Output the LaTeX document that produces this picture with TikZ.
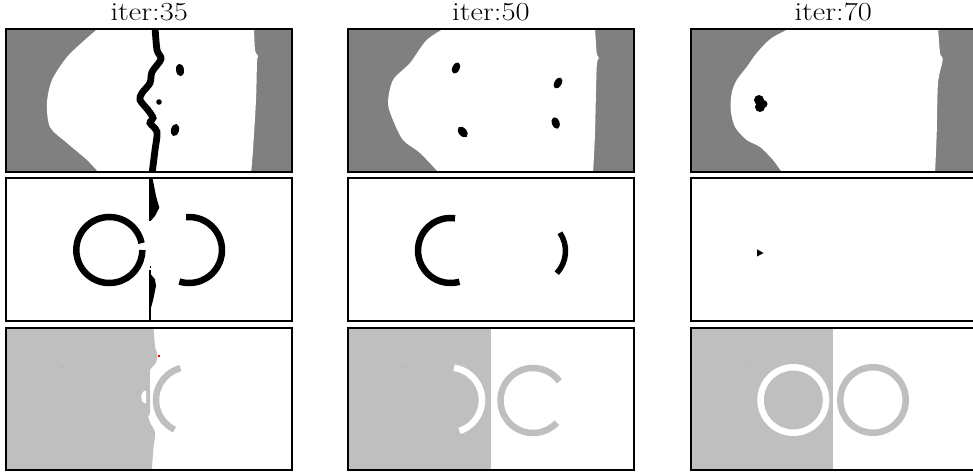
\documentclass[tikz,border=0pt]{standalone}
\usepackage{fontspec}
\usepackage{graphicx}
\begin{document}
\begin{tikzpicture}[x=1pt,y=-1pt,
  frame/.style={draw=black,line width=2pt},
  darkbg/.style={fill=black!50},
  lightbg/.style={fill=black!25},
  blackring/.style={draw=black,line width=6.5pt},
  whitering/.style={draw=white,line width=6.5pt},
  grayring/.style={draw=black!25,line width=6.5pt},
  faint/.style={fill=black!32},
  title/.style={anchor=base,inner sep=0pt,font=\fontsize{26}{30}\selectfont}]
\useasboundingbox (0,0) rectangle (973,473);

% ---------- titles
\node[title] (t1) at (149.2,20.7) {\scalebox{1.175}[1]{iter:35}};
\node[title] (t2) at (490.9,20.7) {\scalebox{1.175}[1]{iter:50}};
\node[title] (t3) at (833.2,20.7) {\scalebox{1.175}[1]{iter:70}};

% ================= column 1 =================
% row 1
\begin{scope}
\clip (6,29) rectangle (291.5,171.7);
\fill[darkbg] (6,29) rectangle (291.5,171.7);
\fill[white] plot[smooth] coordinates {(100,27) (87,38) (67,57) (52,80) (47,103) (50,127) (67,143) (87,160) (100,174)}
  -- plot[smooth] coordinates {(251,174) (253,150) (256,100) (257,62) (258,56) (255,50) (254,27)} -- cycle;
\draw[line width=6.8pt] plot[smooth] coordinates {(155,27) (157,50) (161,59) (152,72) (150,83) (142,93) (140,100) (148,110) (153,118) (150,123) (157,132) (155,150) (152,174)};
\fill[rotate around={8:(180,70)}] (180,70) ellipse[x radius=4,y radius=6.3];
\fill (159,102) circle[radius=2.8];
\fill[rotate around={-15:(175,130)}] (175,130) ellipse[x radius=4,y radius=6.2];
\end{scope}
\draw[frame] (6,29) rectangle (291.5,171.7);

% row 2
\begin{scope}
\clip (6,178.3) rectangle (291.5,321);
\draw[blackring] (109.3,250) ++(-12:33) arc[start angle=-12,end angle=-360,radius=33];
\draw[blackring] (189,250) ++(107:33) arc[start angle=107,end angle=-95,radius=33];
\draw[line width=1.2pt] (150,178) -- (150,221);
\draw[line width=1.2pt] (150,270) -- (150,322);
\fill (149.6,178) -- (152.7,179) -- (156,196) -- (159.3,207.7) -- (155,216) -- (150.6,221) -- cycle;
\fill (149.4,272.7) -- (155,279.3) -- (156,286) -- (153.3,299.3) -- (150.6,309.3) -- (149.4,309.3) -- cycle;
\fill (149.5,265.5) rectangle (151,267.5);
\end{scope}
\draw[frame] (6,178.3) rectangle (291.5,321);

% row 3
\begin{scope}
\clip (6,327.6) rectangle (291.5,470.3);
\fill[lightbg] (4,325) -- plot[smooth] coordinates {(153.3,325) (155,346) (157.3,354.3) (156,362.7) (151.7,367.7) (150,373) (150,411) (148.3,416) (150,422.7) (155,432.7) (153.3,449.3) (151.7,473)} -- (4,473) -- cycle;
\fill[white] (146,390.5) .. controls (139.5,391) and (139.5,403) .. (146,403.5) -- cycle;
\fill[red] (157.6,354.6) rectangle (159.8,357.4);
\draw[grayring] (189,400) ++(-105:33) arc[start angle=-105,end angle=-244,radius=33];
\fill[faint] (62,367) circle[radius=0.8];
\end{scope}
\draw[frame] (6,327.6) rectangle (291.5,470.3);

% ================= column 2 =================
% row 1
\begin{scope}
\clip (348.3,29) rectangle (633.8,171.7);
\fill[darkbg] (348.3,29) rectangle (633.8,171.7);
\fill[white] plot[smooth] coordinates {(446.7,27) (426.7,40) (410,63) (393,80) (388,103) (393,120) (403,140) (420,153) (440,174)}
  -- plot[smooth] coordinates {(593,174) (595,133) (596.7,67) (599,58) (596.7,53) (595,27)} -- cycle;
\fill[rotate around={-25:(456,68)}] (456,68) ellipse[x radius=3.6,y radius=6];
\fill[rotate around={-30:(558,83)}] (558,83) ellipse[x radius=3.6,y radius=6];
\fill[rotate around={40:(462.7,132)}] (462.7,132) ellipse[x radius=4,y radius=6.2];
\fill[rotate around={20:(555.7,123)}] (555.7,123) ellipse[x radius=3.8,y radius=6];
\end{scope}
\draw[frame] (348.3,29) rectangle (633.8,171.7);

% row 2
\begin{scope}
\clip (348.3,178.3) rectangle (633.8,321);
\draw[blackring] (450.5,250.5) ++(-82:32.5) arc[start angle=-82,end angle=-286,radius=32.5];
\draw[draw=black,line width=5.5pt] (533,251) ++(43:32.5) arc[start angle=43,end angle=-34,radius=32.5];
\end{scope}
\draw[frame] (348.3,178.3) rectangle (633.8,321);

% row 3
\begin{scope}
\clip (348.3,327.6) rectangle (633.8,470.3);
\fill[lightbg] (346,325) rectangle (490.7,473);
\draw[whitering] (449.5,400) ++(72:32.5) arc[start angle=72,end angle=-82,radius=32.5];
\draw[grayring] (533,400.5) ++(-36:32.5) arc[start angle=-36,end angle=-317,radius=32.5];
\fill[faint] (403,367) circle[radius=0.8];
\end{scope}
\draw[frame] (348.3,327.6) rectangle (633.8,470.3);

% ================= column 3 =================
% row 1
\begin{scope}
\clip (690.6,29) rectangle (976.1,171.7);
\fill[darkbg] (690.6,29) rectangle (976.1,171.7);
\fill[white] plot[smooth] coordinates {(793,27) (771.7,38) (756.7,53) (746.7,67) (736.7,80) (731.7,93) (730.7,110) (735,127) (746.7,140) (760,147) (773,160) (783,174)}
  -- plot[smooth] coordinates {(935,174) (936.7,133) (938,83) (942.7,60) (940,53) (938,27)} -- cycle;
\fill (759,100) circle[radius=5];
\fill (760,107) circle[radius=5];
\fill (763.5,104) circle[radius=4];
\end{scope}
\draw[frame] (690.6,29) rectangle (976.1,171.7);

% row 2
\begin{scope}
\clip (690.6,178.3) rectangle (976.1,321);
\fill (757,249.3) -- (763.5,253) -- (757,256.5) -- cycle;
\end{scope}
\draw[frame] (690.6,178.3) rectangle (976.1,321);

% row 3
\begin{scope}
\clip (690.6,327.6) rectangle (976.1,470.3);
\fill[lightbg] (688,325) rectangle (832.7,473);
\draw[whitering] (793.3,400) circle[radius=32.75];
\draw[grayring] (873,400) circle[radius=32.75];
\fill[faint] (746.7,366.7) circle[radius=0.8];
\end{scope}
\draw[frame] (690.6,327.6) rectangle (976.1,470.3);
\end{tikzpicture}
\end{document}
